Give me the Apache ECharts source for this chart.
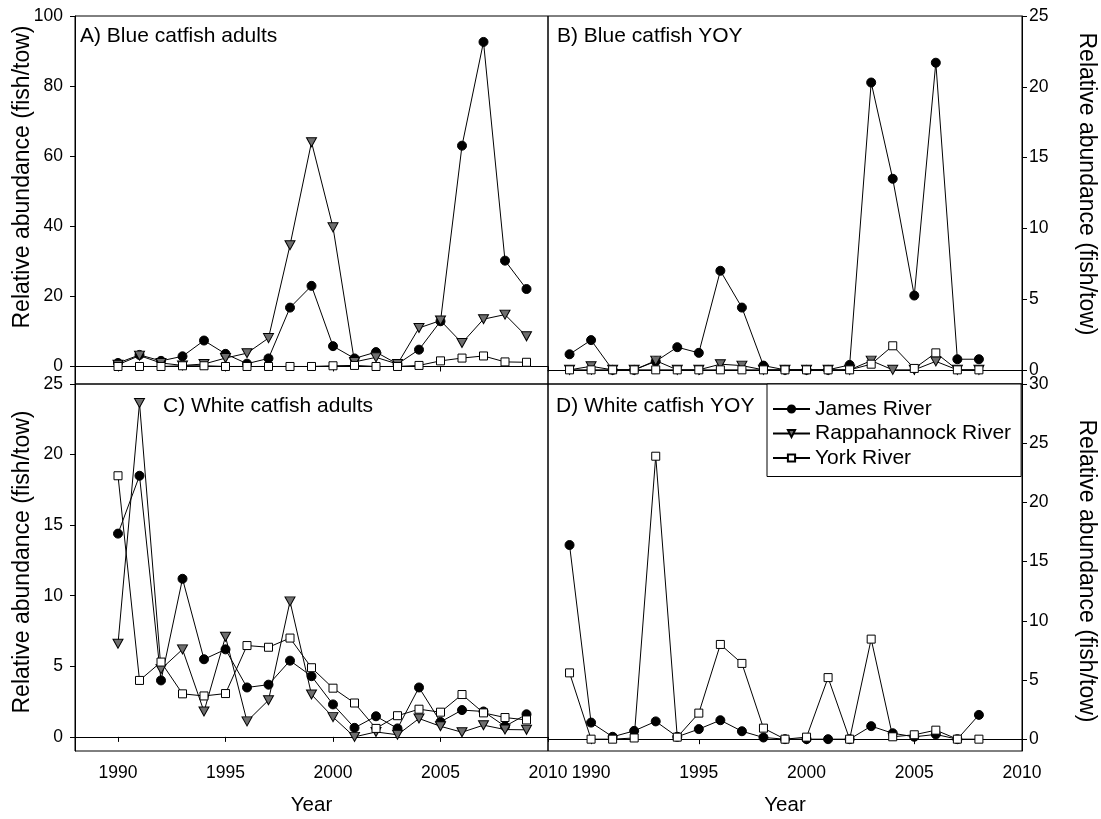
<!DOCTYPE html>
<html>
<head>
<meta charset="utf-8">
<script src="https://cdn.jsdelivr.net/npm/echarts@6/dist/echarts.min.js"></script>
<style>
html,body{margin:0;padding:0;background:#fff;}
#chart{width:1101px;height:819px;}
</style>
</head>
<body>
<div id="chart"></div>
<script>
// ---- data ----
const yearsAdults = [1990,1991,1992,1993,1994,1995,1996,1997,1998,1999,2000,2001,2002,2003,2004,2005,2006,2007,2008,2009];
const yearsYOY = [1989,1990,1991,1992,1993,1994,1995,1996,1997,1998,1999,2000,2001,2002,2003,2004,2005,2006,2007,2008];

// A) Blue catfish adults
const blueAdultJames = [1.0,3.3,1.6,2.9,7.4,3.6,0.8,2.3,16.8,23.0,5.8,2.3,4.1,0.7,4.8,12.9,63.0,92.6,30.2,22.1];
const blueAdultRapp  = [0.5,3.1,1.0,0.3,0.7,2.4,3.8,8.1,34.6,64.0,39.7,1.3,2.6,0.7,11.0,13.1,6.7,13.5,14.8,8.6];
const blueAdultYork  = [0,0,0,0.2,0.2,0,0,0,0,0,0.2,0.3,0,0,0.3,1.6,2.4,3.0,1.3,1.2];

// B) Blue catfish YOY
const blueYOYJames = [1.1,2.1,0,0,0.6,1.6,1.2,7.0,4.4,0.3,0,0,0,0.35,20.3,13.5,5.25,21.7,0.75,0.75];
const blueYOYRapp  = [0,0.25,0,0,0.65,0,0,0.4,0.3,0,0,0,0,0,0.65,0,0,0.6,0,0];
const blueYOYYork  = [0,0,0,0,0,0,0,0,0,0,0,0,0,0,0.4,1.7,0.1,1.2,0,0];

// C) White catfish adults
const whiteAdultJames = [14.4,18.5,4.0,11.2,5.5,6.2,3.5,3.7,5.4,4.3,2.3,0.64,1.46,0.6,3.5,1.06,1.9,1.8,0.75,1.6];
const whiteAdultRapp  = [6.6,23.65,4.8,6.2,1.8,7.1,1.1,2.6,9.6,3.0,1.4,0,0.35,0.15,1.3,0.75,0.33,0.83,0.52,0.5];
const whiteAdultYork  = [18.5,4.0,5.3,3.05,2.9,3.07,6.47,6.35,7.0,4.9,3.45,2.4,0.6,1.5,1.96,1.75,3.0,1.7,1.37,1.2];

// D) White catfish YOY
const whiteYOYJames = [16.4,1.4,0.2,0.7,1.5,0.2,0.85,1.6,0.67,0.14,0,0,0,0,1.1,0.5,0.2,0.4,0,2.05];
const whiteYOYYork  = [5.6,0,0,0.1,23.9,0.17,2.2,8.0,6.4,0.93,0,0.17,5.2,0,8.45,0.2,0.37,0.76,0,0];

const xTicks = [1990,1995,2000,2005,2010];
const yTicksA = [0,20,40,60,80,100];
const yTicksB = [0,5,10,15,20,25];
const yTicksC = [0,5,10,15,20,25];
const yTicksD = [0,5,10,15,20,25,30];

const panelTitles = ['A) Blue catfish adults','B) Blue catfish YOY','C) White catfish adults','D) White catfish YOY'];
const seriesNames = ['James River','Rappahannock River','York River'];
const yTitle = 'Relative abundance (fish/tow)';
const xTitle = 'Year';

// ---- helpers ----
const FONT = '"Liberation Sans", Arial, Helvetica, sans-serif';
const pairs = (xs, ys) => xs.map((x, i) => [x, ys[i]]);

const styles = {
  'James River': {symbol:'circle', symbolSize:9, symbolRotate:0,
    itemStyle:{color:'#000', borderColor:'#000', borderWidth:1}},
  'Rappahannock River': {symbol:'triangle', symbolSize:[10,9], symbolRotate:180,
    itemStyle:{color:'#6e6e6e', borderColor:'#000', borderWidth:1}},
  'York River': {symbol:'rect', symbolSize:8, symbolRotate:0,
    itemStyle:{color:'#fff', borderColor:'#000', borderWidth:1}}
};

function mkSeries(name, idx, xs, ys) {
  const s = styles[name];
  return {
    type:'line', name, xAxisIndex: idx, yAxisIndex: idx,
    data: pairs(xs, ys),
    symbol: s.symbol, symbolSize: s.symbolSize, symbolRotate: s.symbolRotate,
    showAllSymbol: true,
    itemStyle: s.itemStyle,
    lineStyle: {color:'#000', width:1},
    emphasis: {disabled:true},
    animation:false
  };
}

const grids = [
  {left:75, top:16, width:473, height:368},
  {left:548, top:16, width:474, height:368},
  {left:75, top:384, width:473, height:367},
  {left:548, top:384, width:474, height:367}
].map(g => Object.assign(g, {show:true, borderColor:'#000', borderWidth:1, backgroundColor:'transparent'}));

const plain = v => String(v);

function mkX(idx, showLabels, withName) {
  return {
    type:'value', gridIndex: idx, min:1988, max:2010,
    axisLine:{show:true, lineStyle:{color:'#000', width:1}},
    axisTick:{show:true, length:5, inside:false, customValues:xTicks, lineStyle:{color:'#000'}},
    axisLabel:{show:showLabels, customValues:xTicks, formatter:plain, margin:13, color:'#000', fontSize:17.5, fontFamily:FONT},
    splitLine:{show:false},
    name: withName ? xTitle : '',
    nameLocation:'middle', nameGap:44,
    nameTextStyle:{color:'#000', fontSize:20.5, fontFamily:FONT}
  };
}
function mkY(idx, min, max, ticks, right) {
  return {
    type:'value', gridIndex: idx, min, max, position: right ? 'right' : 'left',
    axisLine:{show:true, lineStyle:{color:'#000', width:1}},
    axisTick:{show:true, length:5, inside:false, customValues:ticks, lineStyle:{color:'#000'}},
    axisLabel:{show:true, customValues:ticks, formatter:plain, margin: right ? 7 : 12, color:'#000', fontSize:17.5, fontFamily:FONT},
    splitLine:{show:false}
  };
}

function yTitleText(x, y, right) {
  return {
    type:'text', x, y, rotation: right ? -Math.PI/2 : Math.PI/2, silent:true,
    style:{text:yTitle, fill:'#000', fontSize:23, fontFamily:FONT,
      align:'center', verticalAlign:'middle', textAlign:'center', textVerticalAlign:'middle'}
  };
}

const option = {
  backgroundColor:'#fff',
  animation:false,
  textStyle:{fontFamily:FONT},
  title: [
    {text:panelTitles[0], left:80, top:26},
    {text:panelTitles[1], left:557, top:26},
    {text:panelTitles[2], left:163, top:396},
    {text:panelTitles[3], left:556, top:396}
  ].map(t => Object.assign(t, {padding:0, textStyle:{fontSize:21, fontWeight:'normal', color:'#000', fontFamily:FONT}})),
  legend: {
    data: seriesNames, orient:'vertical', left:767, top:384,
    itemWidth:37, itemHeight:9, itemGap:3.5,
    padding:[14.5,10,8,5], borderColor:'#000', borderWidth:1, borderRadius:0, backgroundColor:'#fff',
    textStyle:{fontSize:21, color:'#000', fontFamily:FONT, lineHeight:21},
    selectedMode:false, z: 10
  },
  graphic: [
    yTitleText(23, 177, false),
    yTitleText(1086, 184, true),
    yTitleText(23, 562, false),
    yTitleText(1086, 571, true)
  ],
  grid: grids,
  xAxis: [mkX(0,false,false), mkX(1,false,false), mkX(2,true,true), mkX(3,true,true)],
  yAxis: [mkY(0,-5,100,yTicksA,false), mkY(1,-1,25,yTicksB,true), mkY(2,-1,25,yTicksC,false), mkY(3,-1,30,yTicksD,true)],
  series: [
    mkSeries('James River',0,yearsAdults,blueAdultJames),
    mkSeries('Rappahannock River',0,yearsAdults,blueAdultRapp),
    mkSeries('York River',0,yearsAdults,blueAdultYork),
    mkSeries('James River',1,yearsYOY,blueYOYJames),
    mkSeries('Rappahannock River',1,yearsYOY,blueYOYRapp),
    mkSeries('York River',1,yearsYOY,blueYOYYork),
    mkSeries('James River',2,yearsAdults,whiteAdultJames),
    mkSeries('Rappahannock River',2,yearsAdults,whiteAdultRapp),
    mkSeries('York River',2,yearsAdults,whiteAdultYork),
    mkSeries('James River',3,yearsYOY,whiteYOYJames),
    mkSeries('York River',3,yearsYOY,whiteYOYYork)
  ]
};

const chart = echarts.init(document.getElementById('chart'), null, {renderer:'canvas'});
chart.setOption(option);
</script>
</body>
</html>
